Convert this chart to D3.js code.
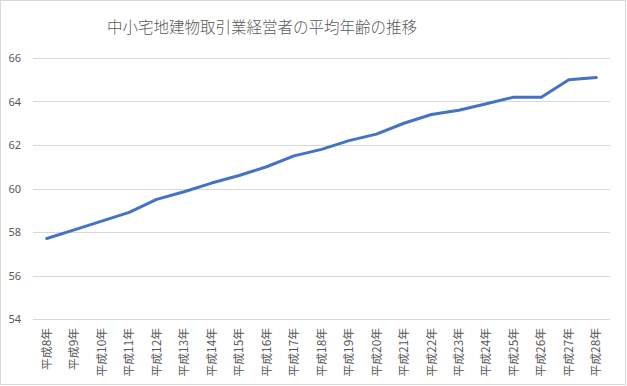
<!DOCTYPE html>
<html>
<head>
<meta charset="utf-8">
<script src="https://cdn.jsdelivr.net/npm/d3@7"></script>
<style>
  body { margin: 0; background: #fff; }
  svg text { font-family: "Noto Sans CJK JP", "Noto Sans", sans-serif; }
</style>
</head>
<body>
<svg id="chart"></svg>
<script>
const years = ["平成8年", "平成9年", "平成10年", "平成11年", "平成12年", "平成13年", "平成14年",
  "平成15年", "平成16年", "平成17年", "平成18年", "平成19年", "平成20年", "平成21年",
  "平成22年", "平成23年", "平成24年", "平成25年", "平成26年", "平成27年", "平成28年"];
const avgAge = [57.7, 58.1, 58.5, 58.9, 59.5, 59.85, 60.25, 60.6, 61.0, 61.5, 61.8,
  62.2, 62.5, 63.0, 63.4, 63.6, 63.9, 64.2, 64.2, 65.0, 65.1];
const yTicks = [54, 56, 58, 60, 62, 64, 66];
const title = "中小宅地建物取引業経営者の平均年齢の推移";

const W = 627, H = 386;
const margin = { top: 58, right: 17, bottom: 67, left: 33 };
const width = W - margin.left - margin.right;
const height = H - margin.top - margin.bottom;

const root = d3.select("#chart")
    .attr("width", W)
    .attr("height", H);

// outer border
root.append("rect")
    .attr("x", 0.5).attr("y", 0.5)
    .attr("width", W - 2).attr("height", H - 2)
    .attr("fill", "#fff")
    .attr("stroke", "#d9d9d9");

root.append("text")
    .attr("x", 262)
    .attr("y", 33)
    .attr("text-anchor", "middle")
    .attr("font-size", 15.5)
    .attr("font-weight", 300)
    .attr("fill", "#595959")
    .text(title);

const svg = root.append("g")
    .attr("transform", `translate(${margin.left},${margin.top})`);

const x = d3.scaleBand()
    .domain(years)
    .range([0, width]);
const y = d3.scaleLinear()
    .domain([54, 66])
    .range([height, 0]);

// gridlines
svg.append("g")
    .selectAll("line")
    .data(yTicks)
    .join("line")
    .attr("x1", 0).attr("x2", width)
    .attr("y1", d => Math.round(y(d)) + 0.5)
    .attr("y2", d => Math.round(y(d)) + 0.5)
    .attr("stroke", "#d9d9d9");

// y axis labels
const yAxis = d3.axisLeft(y).tickValues(yTicks).tickSize(0).tickPadding(12);
svg.append("g")
    .call(yAxis)
    .call(g => g.select(".domain").remove())
    .call(g => g.selectAll("text")
        .attr("font-size", 11)
        .attr("fill", "#595959")
        .style("font-family", "'Noto Sans', sans-serif"));

// x axis labels
const xAxis = d3.axisBottom(x).tickSize(0).tickPadding(0);
svg.append("g")
    .attr("transform", `translate(0,${height})`)
    .call(xAxis)
    .call(g => g.select(".domain").remove())
    .call(g => g.selectAll("text")
        .attr("font-size", 11.8)
        .attr("fill", "#595959")
        .attr("text-anchor", "end")
        .attr("dy", "0.35em")
        .style("font-family", "'Noto Sans CJK JP', sans-serif")
        .attr("transform", "translate(0,9) rotate(-90)"));

const line = d3.line()
    .x((d, i) => x(years[i]) + x.bandwidth() / 2)
    .y(d => y(d));

svg.append("path")
    .datum(avgAge)
    .attr("d", line)
    .attr("fill", "none")
    .attr("stroke", "#4472c4")
    .attr("stroke-width", 3)
    .attr("stroke-linejoin", "round")
    .attr("stroke-linecap", "round");
</script>
</body>
</html>
